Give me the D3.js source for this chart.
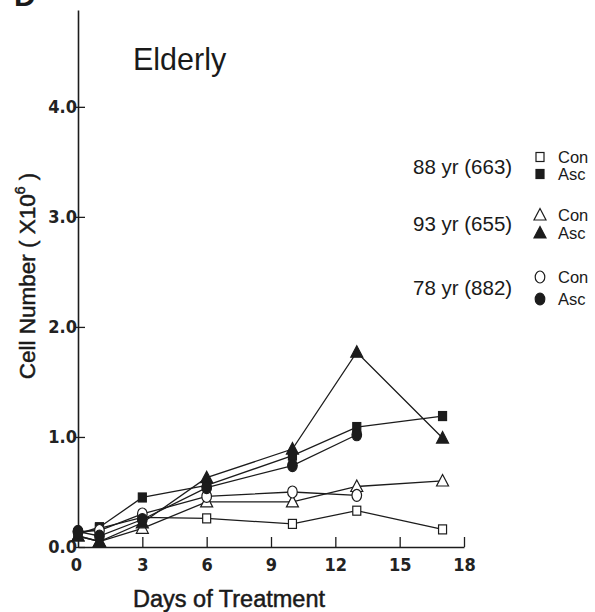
<!DOCTYPE html>
<html>
<head>
<meta charset="utf-8">
<script src="https://cdn.jsdelivr.net/npm/d3@7"></script>
<style>
  body { margin: 0; background: #fff; }
  svg { display: block; }
  .tick text { font-family: "Liberation Sans Narrow", "DejaVu Sans Condensed", sans-serif; font-weight: bold; font-size: 18px; fill: #222; }
  .lbl { font-family: "Liberation Sans", Arial, sans-serif; fill: #1a1a1a; }
</style>
</head>
<body>
<svg id="chart" width="595" height="612"></svg>
<script>
// values, x10^6 cells
const days = [0, 1, 3, 6, 10, 13, 17];
const con88 = [0.12, 0.17, 0.27, 0.26, 0.21, 0.33, 0.16];
const asc88 = [0.12, 0.18, 0.45, 0.56, 0.83, 1.09, 1.19];
const con93 = [0.10, 0.05, 0.17, 0.41, 0.41, 0.55, 0.60];
const asc93 = [0.10, 0.05, 0.22, 0.63, 0.89, 1.77, 0.99];
const con78 = [0.14, 0.15, 0.30, 0.46, 0.50, 0.47];
const asc78 = [0.14, 0.10, 0.25, 0.54, 0.74, 1.02];
const xTicks = [0, 3, 6, 9, 12, 15, 18];
const yTicks = [0, 1, 2, 3, 4];
const donors = ["88 yr (663)", "93 yr (655)", "78 yr (882)"];

const series = [
    {vals: con88, shape: "square", fill: false},
    {vals: asc88, shape: "square", fill: true},
    {vals: con93, shape: "triangle", fill: false},
    {vals: asc93, shape: "triangle", fill: true},
    {vals: con78, shape: "circle", fill: false},
    {vals: asc78, shape: "circle", fill: true}
];

const svg = d3.select("#chart");
const x = d3.scaleLinear().domain([0, 18]).range([78, 464]);
const y = d3.scaleLinear().domain([0, 4.88]).range([547, 10]);
const ink = "#1c1c1c";

// x axis, ticks pointing up into the plot
const xAxis = svg.append("g")
    .attr("transform", "translate(0," + y(0) + ")")
    .call(d3.axisBottom(x).tickValues(xTicks).tickFormat(d3.format("d")).tickSizeInner(-10).tickSizeOuter(0).tickPadding(8));
xAxis.select(".domain").attr("stroke", ink).attr("stroke-width", 1.6);
xAxis.selectAll(".tick line").attr("stroke", ink).attr("stroke-width", 1.3)
    .filter(d => d === 0).remove();
xAxis.selectAll(".tick text").attr("dy", "0.9em").attr("dx", d => d === 0 ? -2 : 0);

// y axis
const yAxis = svg.append("g")
    .attr("transform", "translate(" + x(0) + ",0)")
    .call(d3.axisLeft(y).tickValues(yTicks).tickFormat(d3.format(".1f")).tickSizeInner(-7).tickSizeOuter(0).tickPadding(3));
yAxis.select(".domain").attr("stroke", ink).attr("stroke-width", 1.6);
yAxis.selectAll(".tick line").attr("stroke", ink).attr("stroke-width", 1.3).attr("x1", -2);
yAxis.selectAll(".tick text").attr("x", -1);

// lines
const line = d3.line().x((d, i) => x(days[i])).y(d => y(d));
svg.append("g").selectAll("path").data(series).join("path")
    .attr("d", s => line(s.vals))
    .attr("fill", "none").attr("stroke", ink).attr("stroke-width", 1.3);

function drawMarker(g, shape, filled) {
    const f = filled ? ink : "#fff";
    if (shape === "square") {
        g.append("rect").attr("x", -4).attr("y", -4.5).attr("width", 8).attr("height", 9)
            .attr("fill", f).attr("stroke", ink).attr("stroke-width", 1.2);
    } else if (shape === "triangle") {
        g.append("path").attr("d", "M0,-6.5L6,5L-6,5Z")
            .attr("fill", f).attr("stroke", ink).attr("stroke-width", 1.2);
    } else {
        g.append("ellipse").attr("rx", 4.8).attr("ry", 6)
            .attr("fill", f).attr("stroke", ink).attr("stroke-width", 1.2);
    }
}

// markers
series.forEach(s => {
    svg.append("g").selectAll("g").data(s.vals).join("g")
        .attr("transform", (d, i) => "translate(" + x(days[i]) + "," + y(d) + ")")
        .each(function () { drawMarker(d3.select(this), s.shape, s.fill); });
});

// legend
const legendRows = [
    {label: donors[0], cy: 167, con: 157, asc: 174, shape: "square"},
    {label: donors[1], cy: 224, con: 215, asc: 233, shape: "triangle"},
    {label: donors[2], cy: 288, con: 277, asc: 299, shape: "circle"}
];
legendRows.forEach(r => {
    svg.append("text").attr("class", "lbl").attr("x", 413).attr("y", r.cy + 7)
        .attr("font-size", 20.5).text(r.label);
    [[r.con, false, "Con"], [r.asc, true, "Asc"]].forEach(([yy, filled, txt]) => {
        const g = svg.append("g").attr("transform", "translate(540," + yy + ")");
        drawMarker(g, r.shape, filled);
        svg.append("text").attr("class", "lbl").attr("x", 558).attr("y", yy + 6)
            .attr("font-size", 16.5).text(txt);
    });
});

// titles
svg.append("text").attr("class", "lbl").attr("x", 133).attr("y", 70)
    .attr("font-size", 30.5).text("Elderly");

svg.append("text").attr("class", "lbl").attr("x", 229).attr("y", 607)
    .attr("text-anchor", "middle").attr("font-size", 23.5)
    .attr("stroke", "#1a1a1a").attr("stroke-width", 0.5)
    .text("Days of Treatment");

const yl = svg.append("text").attr("class", "lbl")
    .attr("transform", "translate(35,276) rotate(-90)")
    .attr("text-anchor", "middle").attr("font-size", 22.5)
    .attr("stroke", "#1a1a1a").attr("stroke-width", 0.5);
yl.append("tspan").text("Cell Number ( X10");
yl.append("tspan").attr("dy", -10).attr("font-size", 14).text("6");
yl.append("tspan").attr("dy", 10).text(" )");

// panel letter, mostly cut off at the top edge
svg.append("text").attr("class", "lbl").attr("x", 14).attr("y", 6)
    .attr("font-size", 30).attr("font-weight", "bold").text("D");
</script>
</body>
</html>
